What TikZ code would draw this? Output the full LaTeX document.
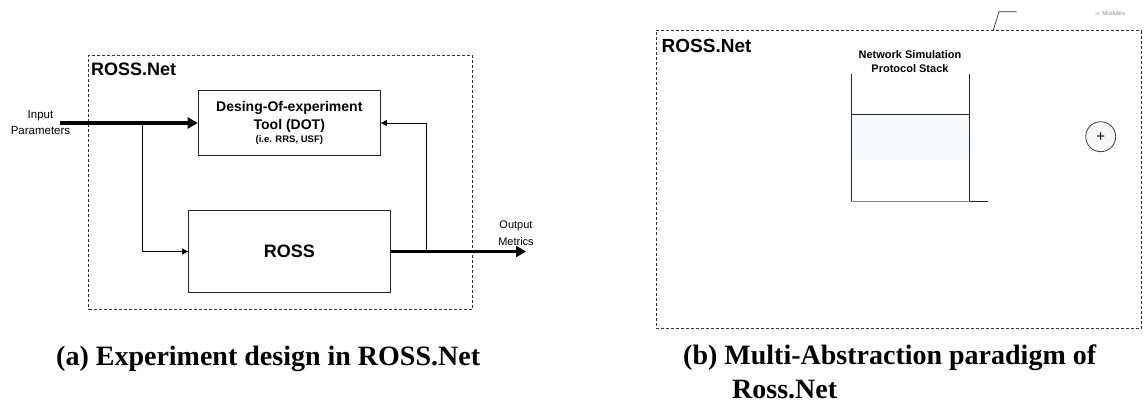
\documentclass[tikz,border=0pt]{standalone}
\usepackage{fontspec}
\setmainfont{Liberation Serif}
\newfontfamily\diagfont{Liberation Sans}
\usetikzlibrary{arrows.meta}
\definecolor{stackfill}{RGB}{247,250,253}
\definecolor{circfill}{RGB}{246,246,246}
\begin{document}
\begin{tikzpicture}[x=1pt,y=-1pt,
  frame/.style={draw=black!80, line width=0.8pt, dash pattern=on 3pt off 2pt},
  block/.style={draw=black!85, line width=1pt, inner sep=0pt},
  thinflow/.style={draw=black, line width=0.9pt, -{Triangle[length=6pt,width=6pt]}},
  thickflow/.style={draw=black, line width=3.5pt, -{Triangle[length=10pt,width=11pt]}},
  lbl/.style={inner sep=0pt, align=center, font=\diagfont\fontsize{11.5}{16}\selectfont},
  boxtext/.style={inner sep=0pt, font=\diagfont\bfseries\fontsize{14}{16}\selectfont},
  netlbl/.style={inner sep=0pt, anchor=west, font=\diagfont\bfseries\fontsize{18}{20}\selectfont},
  caption/.style={inner sep=0pt, anchor=base west, font=\bfseries\fontsize{28}{34}\selectfont},
  stackline/.style={draw=black!85, line width=0.9pt}
]
\useasboundingbox (0,0) rectangle (1144,404);

% ---------- (a) experiment design ----------
\node[frame, minimum width=383.5pt, minimum height=254.3pt] (netA) at (280.35,182.15) {};
\node[netlbl] (netAlbl) at (91,69.3) {ROSS.Net};

\node[block, minimum width=182.2pt, minimum height=64pt] (dot) at (289.3,123) {};
\node[boxtext] (dot1) at (289.3,108) {Desing-Of-experiment};
\node[boxtext] (dot2) at (289.3,126) {Tool (DOT)};
\node[boxtext, font=\diagfont\bfseries\fontsize{9.5}{11}\selectfont] (dot3) at (289.3,140.5) {(i.e. RRS, USF)};

\node[block, minimum width=201.4pt, minimum height=81.6pt,
      font=\diagfont\bfseries\fontsize{18}{20}\selectfont] (ross) at (289.3,251.5) {ROSS};

\node[lbl] (inlbl) at (40.5,123) {Input\\Parameters};
\node[lbl, font=\diagfont\fontsize{11}{16.5}\selectfont] (outlbl) at (516,233.4) {Output\\Metrics};

\coordinate (inp) at (60,123);
\coordinate (br) at (142.9,123);
\coordinate (fb) at (426.8,251.5);
\coordinate (outend) at (526,251.5);

\draw[thickflow] (inp) -- (dot.west);
\draw[thinflow] (br) |- (ross.west);
\draw[thickflow] (ross.east) -- (outend);
\draw[thinflow] (fb) |- (dot.east);

% ---------- (b) multi-abstraction paradigm ----------
\node[frame, minimum width=485.3pt, minimum height=297.6pt] (netB) at (898.85,179.5) {};
\node[netlbl, font=\diagfont\bfseries\fontsize{19}{21}\selectfont] (netBlbl) at (661.5,45.7) {ROSS.Net};

\node[lbl, font=\diagfont\bfseries\fontsize{11}{13.3}\selectfont] (stacklbl) at (910,61.7)
  {Network Simulation\\Protocol Stack};

\coordinate (stTL) at (851.2,74);
\coordinate (stTR) at (969.5,74);
\coordinate (stML) at (851.2,114);
\coordinate (stMR) at (969.5,114);
\coordinate (stBL) at (851.2,201.7);
\coordinate (stBR) at (969.5,201.7);
\coordinate (stExt) at (988,201.7);

\fill[stackfill] (stML) rectangle (969.5,160);
\draw[stackline] (stTL) -- (stBL);
\draw[stackline] (stTR) -- (stBR);
\draw[stackline] (stML) -- (stMR);
\draw[draw=black!45, line width=0.9pt] (stBL) -- (stBR);
\draw[stackline] (stBR) -- (stExt);

\node[circle, draw=black!75, fill=circfill, line width=0.8pt, minimum size=30pt, inner sep=0pt,
      font=\diagfont\fontsize{15}{15}\selectfont] (plus) at (1100.7,136.7) {+};

% leader to the module legend above the frame
\coordinate (ldA) at (993.1,30.7);
\coordinate (ldB) at (999,11.7);
\coordinate (ldC) at (1016.5,11.7);
\draw[draw=black!80, line width=0.7pt] (ldA) -- (ldB) -- (ldC);
\node[inner sep=0pt, text=black!45, font=\diagfont\fontsize{6}{7}\selectfont] (legend) at (1110,13.5) {$\equiv$ Modules};

% ---------- captions ----------
\node[caption] (capa) at (56,365) {(a) Experiment design in ROSS.Net};
\node[caption] (capb) at (683,364) {(b) Multi-Abstraction paradigm of};
\node[caption] (capb2) at (732,398) {Ross.Net};
\end{tikzpicture}
\end{document}
